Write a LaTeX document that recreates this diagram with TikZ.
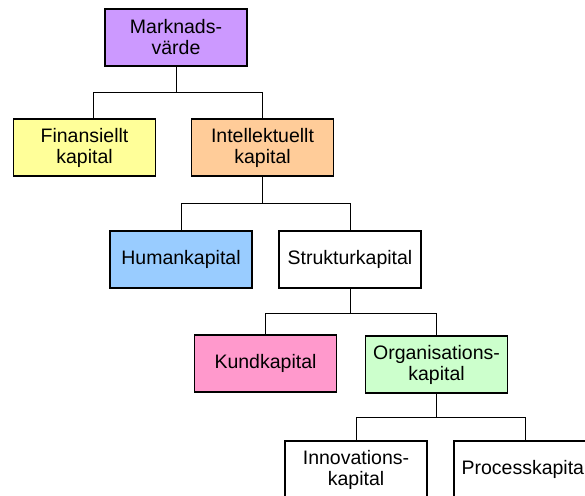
\documentclass[tikz,border=0pt]{standalone}
\usepackage{fontspec}
\setmainfont{Liberation Sans}
\definecolor{cPurple}{HTML}{CC99FF}
\definecolor{cYellow}{HTML}{FFFF99}
\definecolor{cOrange}{HTML}{FFCC99}
\definecolor{cBlue}{HTML}{99CCFF}
\definecolor{cPink}{HTML}{FF99CC}
\definecolor{cGreen}{HTML}{CCFFCC}
\tikzset{
  box/.style={draw=black, line width=1.2pt, fill=white, minimum width=142pt,
    minimum height=57pt, inner sep=0pt, align=center,
    font=\fontsize{19.5}{21}\selectfont},
  link/.style={draw=black, line width=1pt}
}
\begin{document}
\begin{tikzpicture}
\useasboundingbox (0,0) rectangle (585pt,-495pt);
\clip (0,0) rectangle (585pt,-495pt);
\fill[white] (0,0) rectangle (585pt,-495pt);

% tree nodes
\node[box, fill=cPurple] (mv) at (176pt,-37.5pt) {Marknads-\\värde};
\node[box, fill=cYellow] (fk) at (84.5pt,-147.5pt) {Finansiellt\\kapital};
\node[box, fill=cOrange] (ik) at (262.5pt,-147.5pt) {Intellektuellt\\kapital};
\node[box, fill=cBlue] (hk) at (181pt,-259.5pt) {Humankapital};
\node[box] (sk) at (350pt,-259.5pt) {Strukturkapital};
\node[box, fill=cPink] (kk) at (265.5pt,-363.5pt) {Kundkapital};
\node[box, fill=cGreen] (ok) at (436.5pt,-364.5pt) {Organisations-\\kapital};
\node[box] (nk) at (356pt,-469.5pt) {Innovations-\\kapital};
\node[box] (pk) at (525pt,-469.5pt) {Processkapital};

% connectors
\draw[link] (mv.south) -- ++(0,-26pt) -| ([xshift=8.5pt]fk.north);
\draw[link] (mv.south) -- ++(0,-26pt) -| (ik.north);
\draw[link] (ik.south) -- ++(0,-26.5pt) -| (hk.north);
\draw[link] (ik.south) -- ++(0,-26.5pt) -| (sk.north);
\draw[link] (sk.south) -- ++(0,-25pt) -| (kk.north);
\draw[link] (sk.south) -- ++(0,-25pt) -| (ok.north);
\draw[link] (ok.south) -- ++(0,-24pt) -| (nk.north);
\draw[link] (ok.south) -- ++(0,-24pt) -| (pk.north);
\end{tikzpicture}
\end{document}
